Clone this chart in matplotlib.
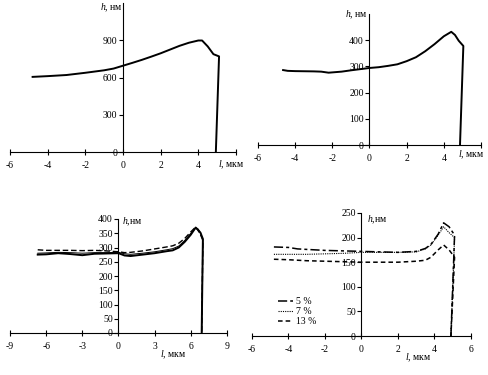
import matplotlib.pyplot as plt
import numpy as np

plt.rcParams['font.family'] = ['Liberation Serif', 'DejaVu Serif']
plt.rcParams['mathtext.fontset'] = 'custom'
plt.rcParams['mathtext.rm'] = 'Liberation Serif'
plt.rcParams['mathtext.it'] = 'Liberation Serif:italic'
plt.rcParams['axes.unicode_minus'] = False

# panel a
x1 = [-4.8, -4, -3, -2, -1, -0.5, 0, 0.5, 1, 1.5, 2, 2.5, 3, 3.5, 4, 4.2, 4.5, 4.8, 5.1, 4.93]
y1 = [605, 611, 620, 638, 658, 672, 695, 718, 742, 768, 795, 825, 855, 880, 898, 898, 850, 788, 770, 0]
# panel b
x2 = [-4.65, -4.4, -4, -3, -2.6, -2.2, -1.5, -1, 0, 0.5, 1, 1.5, 2, 2.5, 3, 3.5, 4, 4.4, 4.6, 4.8, 5.05, 4.87]
y2 = [286, 283, 282, 281, 280, 276, 280, 285, 294, 297, 302, 308, 320, 335, 358, 385, 415, 432, 420, 398, 378, 0]
# panel c
x3 = [-6.7, -6, -5, -4, -3, -2, -1, 0, 0.5, 1, 2, 3, 4, 4.5, 5, 5.5, 6, 6.4, 6.6, 6.8, 7.0, 6.9]
y3a = [275, 276, 280, 277, 273, 278, 279, 280, 272, 270, 275, 280, 287, 290, 300, 320, 345, 370, 362, 352, 330, 0]
y3b = [292, 290, 290, 290, 289, 290, 288, 285, 282, 283, 288, 295, 302, 306, 315, 332, 355, 372, 360, 345, 325, 0]
y3c = [280, 281, 283, 282, 280, 282, 282, 283, 278, 276, 280, 285, 292, 296, 305, 325, 350, 368, 365, 350, 328, 0]
# panel d
x4 = [-4.8, -4, -3.5, -3, -2, -1, 0, 1, 2, 3, 3.5, 3.8, 4.2, 4.5, 4.8, 5.1, 4.9]
y5 = [181, 180, 177, 176, 174, 173, 172, 171, 170, 172, 178, 186, 207, 230, 222, 205, 0]
y7 = [166, 166, 166, 166, 167, 168, 170, 170, 170, 171, 177, 185, 205, 222, 210, 200, 0]
y13 = [156, 155, 154, 153, 152, 151, 150, 150, 150, 152, 154, 160, 175, 185, 175, 160, 0]
legend_labels = ['5 %', '7 %', '13 %']

W, H = 489, 375
fig = plt.figure(figsize=(W / 100, H / 100), dpi=100)


def make_ax(px0, px1, py0, py1, xlim, ylim, xticks, yticks, xlabels=None):
    ax = fig.add_axes([px0 / W, 1 - py0 / H, (px1 - px0) / W, (py0 - py1) / H])
    ax.set_xlim(xlim)
    ax.set_ylim(ylim)
    for s in ['top', 'right']:
        ax.spines[s].set_visible(False)
    ax.spines['left'].set_position(('data', 0))
    ax.spines['bottom'].set_position(('data', 0))
    for s in ['left', 'bottom']:
        ax.spines[s].set_linewidth(0.8)
    ax.set_xticks(xticks)
    if xlabels is not None:
        ax.set_xticklabels(xlabels)
    ax.set_yticks(yticks)
    ax.tick_params(axis='x', direction='inout', length=5, width=0.8, labelsize=7, pad=4)
    ax.tick_params(axis='y', direction='out', length=3, width=0.8, labelsize=7, pad=1)
    ax.patch.set_alpha(0)
    return ax


xt = list(range(-6, 7, 2))
xl = [str(v) for v in xt[:-1]] + ['']

ax1 = make_ax(10, 236, 152, 3, (-6, 6), (0, 1200), xt, range(0, 901, 300), xl)
ax1.plot(x1, y1, color='black', lw=1.4)
fig.text(100 / W, 1 - 8 / H, '$h$, нм', fontsize=7, va='center')
fig.text(218 / W, 1 - 165 / H, '$l$, мкм', fontsize=7, va='center')

ax2 = make_ax(258, 481, 145, 14, (-6, 6), (0, 500), xt, range(0, 401, 100), xl)
ax2.plot(x2, y2, color='black', lw=1.4)
fig.text(345 / W, 1 - 15 / H, '$h$, нм', fontsize=7, va='center')
fig.text(458 / W, 1 - 155 / H, '$l$, мкм', fontsize=7, va='center')

ax3 = make_ax(10, 227, 333, 219, (-9, 9), (0, 400), range(-9, 10, 3), range(0, 401, 50))
ax3.plot(x3, y3a, color='black', lw=1.4)
ax3.plot(x3, y3b, color='black', lw=1.0, ls=(0, (4, 2)))
ax3.plot(x3, y3c, color='black', lw=0.7)
fig.text(122 / W, 1 - 222 / H, '$h$,нм', fontsize=7, va='center')
fig.text(160 / W, 1 - 355 / H, '$l$, мкм', fontsize=7, va='center')

ax4 = make_ax(252, 471, 336, 213, (-6, 6), (0, 250), xt, range(0, 251, 50))
l5, = ax4.plot(x4, y5, color='black', lw=1.1, ls=(0, (6, 2, 2, 2)))
l7, = ax4.plot(x4, y7, color='black', lw=0.8, ls=(0, (1, 1)))
l13, = ax4.plot(x4, y13, color='black', lw=1.1, ls=(0, (3, 2)))
fig.text(367 / W, 1 - 220 / H, '$h$,нм', fontsize=7, va='center')
fig.text(405 / W, 1 - 358 / H, '$l$, мкм', fontsize=7, va='center')
ax4.legend([l5, l7, l13], legend_labels, loc='lower left', bbox_to_anchor=(0.1, 0.05),
           frameon=False, fontsize=7, handlelength=1.6, handletextpad=0.3,
           labelspacing=0.1, borderaxespad=0)

fig.savefig('out.png', dpi=100, facecolor='white')
